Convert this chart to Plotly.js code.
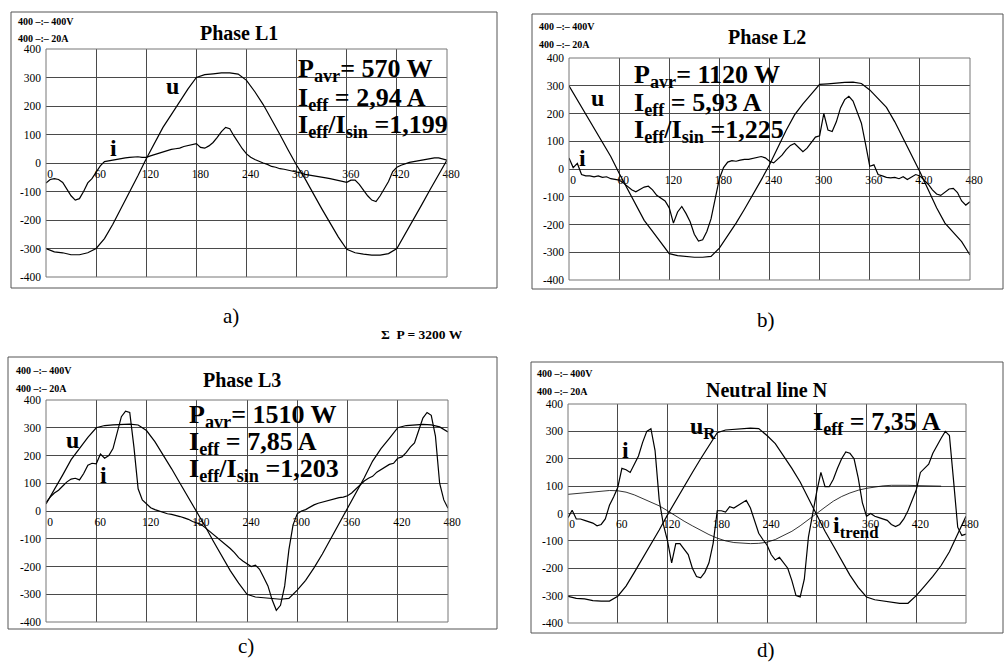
<!DOCTYPE html>
<html>
<head>
<meta charset="utf-8">
<script src="https://cdn.plot.ly/plotly-3.0.1.min.js"></script>
<style>html,body{margin:0;padding:0;background:#fff;}#chart{width:1004px;height:664px;}</style>
</head>
<body>
<div id="chart"></div>
<script>
// ---- sample times (degrees) ----
const T10 = [0,10,20,30,40,50,60,70,80,90,100,110,120,130,140,150,160,170,180,190,200,210,220,230,240,250,260,270,280,290,300,310,320,330,340,350,360,370,380,390,400,410,420,430,440,450,460,470,480];
const T5 = [0,5,10,15,20,25,30,35,40,45,50,55,60,65,70,75,80,85,90,95,100,105,110,115,120,125,130,135,140,145,150,155,160,165,170,175,180,185,190,195,200,205,210,215,220,225,230,235,240,245,250,255,260,265,270,275,280,285,290,295,300,305,310,315,320,325,330,335,340,345,350,355,360,365,370,375,380,385,390,395,400,405,410,415,420,425,430,435,440,445,450,455,460,465,470,475,480];
const T_TREND = [0,10,20,30,40,50,60,70,80,90,100,110,120,130,140,150,160,170,180,190,200,210,220,230,240,250,260,270,280,290,300,310,320,330,340,350,360,370,380,390,400,410,420,430,440,450];

// ---- Phase L1 ----
const U_L1 = [-300,-312,-315,-322,-322,-315,-300,-265,-215,-160,-105,-45,15,70,125,170,215,260,300,310,313,316,316,312,290,250,205,155,100,45,-8,-55,-110,-160,-210,-260,-303,-315,-320,-323,-323,-318,-300,-250,-195,-145,-92,-40,10];
const I_L1 = [-70,-58,-55,-58,-68,-90,-115,-130,-125,-100,
  -70,-55,-32,-10,5,8,10,12,15,18,
  20,22,22,20,20,25,30,35,40,45,
  48,50,52,58,62,65,68,55,52,60,
  72,90,110,125,120,95,70,50,32,20,
  12,5,0,-5,-12,-15,-20,-22,-25,-28,
  -32,-35,-40,-42,-45,-48,-50,-52,-55,-58,
  -60,-65,-68,-60,-60,-75,-95,-115,-130,-135,
  -115,-90,-65,-30,-15,-8,-2,2,5,8,
  10,12,15,18,18,15,10];

// ---- Phase L2 ----
const U_L2 = [300,250,200,150,100,45,-15,-70,-130,-185,-225,-265,-305,-312,-315,-318,-318,-315,-285,-240,-195,-145,-95,-40,15,80,140,195,235,270,305,307,310,312,313,308,285,255,222,170,110,55,-10,-75,-140,-195,-230,-262,-310];
const I_L2 = [40,5,20,-20,-25,-25,-28,-25,-30,-28,
  -35,-38,-40,-50,-62,-75,-82,-75,-65,-62,
  -75,-95,-105,-115,-140,-195,-155,-135,-160,-190,
  -235,-260,-255,-225,-180,-110,-35,5,25,30,
  28,32,35,35,38,42,45,40,28,22,
  35,50,70,85,92,75,62,75,95,115,
  120,200,140,135,170,220,250,262,245,205,
  165,90,10,15,-20,-25,-30,-32,-30,-35,
  -28,-38,-30,-20,-25,-40,-55,-75,-90,-95,
  -85,-72,-70,-85,-115,-130,-118];

// ---- Phase L3 ----
const U_L3 = [25,75,130,185,225,265,300,308,310,312,313,310,290,250,202,152,100,50,0,-55,-110,-165,-215,-260,-300,-310,-312,-315,-318,-315,-285,-250,-205,-155,-100,-45,5,60,120,180,225,262,300,308,310,312,310,303,285];
const I_L3 = [30,50,65,75,90,105,115,118,112,135,
  165,172,170,205,190,200,225,280,340,360,
  355,230,80,40,25,12,5,0,-5,-10,
  -12,-15,-20,-25,-30,-38,-42,-48,-60,-72,
  -85,-98,-110,-122,-135,-150,-168,-180,-190,-200,
  -195,-210,-240,-270,-320,-358,-340,-270,-140,-50,
  -10,0,5,15,22,28,32,35,40,45,
  48,50,55,65,80,95,108,118,125,140,
  150,160,168,172,190,195,210,230,245,290,
  335,355,345,270,100,40,10];

// ---- Neutral line N ----
const U_N = [-303,-310,-312,-318,-320,-320,-302,-265,-215,-165,-110,-60,-5,48,100,150,200,250,295,305,308,310,312,310,285,255,210,165,115,55,-10,-65,-118,-170,-225,-270,-305,-315,-320,-325,-328,-328,-300,-265,-230,-190,-140,-75,-10];
const I_N = [-15,12,-20,-20,-25,-30,-35,-45,-40,-20,
  30,60,95,165,160,150,180,210,260,300,
  310,230,50,-40,-100,-180,-110,-110,-130,-150,
  -200,-230,-235,-215,-180,-110,10,10,5,25,
  20,30,37,48,20,-30,-72,-95,-115,-150,
  -170,-160,-180,-200,-245,-300,-305,-240,-85,5,
  80,150,98,98,125,165,200,225,220,200,
  130,40,-10,0,-10,-15,-20,-25,-40,-48,
  -40,-20,10,50,86,150,165,180,220,250,
  275,300,285,120,-50,-80,-75];
const I_TREND = [70,73,76,79,82,84,83,78,68,55,42,28,10,-10,-28,-45,-62,-77,-90,-100,-106,-109,-110,-109,-105,-95,-80,-65,-45,-22,3,23,45,62,75,85,92,97,101,103,104,103,102,101,100,100];

// ---- tick labels ----
const X_TICKS = [0,60,120,180,240,300,360,420,480];
const X_TICKTEXT = ['0','60','120','180','240','300','360','420','480'];
const Y_TICKS = [-400,-300,-200,-100,0,100,200,300,400];
const Y_TICKTEXT = ['-400','-300','-200','-100','0','100','200','300','400'];

// ---- texts ----
const TITLES = ['Phase L1','Phase L2','Phase L3','Neutral line N'];
const SCALE1 = '400 –:– 400V';
const SCALE2 = '400 –:– 20A';
const STATS = [
  ['P<sub>avr</sub>= 570 W','I<sub>eff</sub> = 2,94 A','I<sub>eff</sub>/I<sub>sin</sub> =1,199'],
  ['P<sub>avr</sub>= 1120 W','I<sub>eff</sub> = 5,93 A','I<sub>eff</sub>/I<sub>sin</sub> =1,225'],
  ['P<sub>avr</sub>= 1510 W','I<sub>eff</sub> = 7,85 A','I<sub>eff</sub>/I<sub>sin</sub> =1,203'],
  ['I<sub>eff</sub> = 7,35 A']
];
const PANEL_LETTERS = ['a)','b)','c)','d)'];
const TOTAL = 'Σ  P = 3200 W';

// ---------------- layout geometry (pixels) ----------------
const W = 1004, H = 664;
const fx = v => v / W;
const fy = v => 1 - v / H;
const SERIF = "'Liberation Serif', 'Times New Roman', Times, serif";
const GRID = '#4a4a4a';

// plot areas [left, right, top, bottom] in px
const AREAS = [[46,447,49,277],[569,970,58,280],[46,448,400,622],[568,966,404,623]];
// outer frames
const FRAMES = [[11,497,12,288],[532,1003,14,289],[8,497,357,629],[531,1003,362,633]];

const layout = {
  width: W, height: H,
  margin: {l:0, r:0, t:0, b:0},
  paper_bgcolor: '#fff', plot_bgcolor: '#fff',
  showlegend: false,
  font: {family: SERIF, color: '#000', size: 11},
  shapes: [], annotations: []
};

AREAS.forEach((a, k) => {
  const n = k === 0 ? '' : String(k + 1);
  const yd = [fy(a[3]), fy(a[2])];
  layout['xaxis' + n] = {
    domain: [fx(a[0]), fx(a[1])], range: [0, 480],
    anchor: 'free', position: (yd[0] + yd[1]) / 2,
    tickvals: X_TICKS, ticktext: X_TICKTEXT,
    showgrid: true, gridcolor: GRID, gridwidth: 1,
    zeroline: false, showline: false, ticks: '',
    ticklabelshift: 4, ticklabelstandoff: 2,
    tickfont: {family: SERIF, size: 11.5, color: '#000'},
    fixedrange: true
  };
  layout['yaxis' + n] = {
    domain: yd, range: [-400, 400],
    anchor: 'x' + n,
    tickvals: Y_TICKS, ticktext: Y_TICKTEXT,
    showgrid: true, gridcolor: GRID, gridwidth: 1,
    zeroline: true, zerolinecolor: GRID, zerolinewidth: 1,
    showline: false, ticks: '', ticklabelstandoff: 4,
    tickfont: {family: SERIF, size: 11.5, color: '#000'},
    fixedrange: true
  };
  layout.shapes.push({type: 'rect', xref: 'x' + n + ' domain', yref: 'y' + n + ' domain',
    x0: 0, x1: 1, y0: 0, y1: 1, line: {color: '#777', width: 1}});
  const f = FRAMES[k];
  layout.shapes.push({type: 'rect', xref: 'paper', yref: 'paper',
    x0: fx(f[0]), x1: fx(f[1]), y0: fy(f[3]), y1: fy(f[2]), line: {color: '#555', width: 1}});
});

function ann(text, x, y, size, opts) {
  layout.annotations.push(Object.assign({
    text: text, xref: 'paper', yref: 'paper', x: fx(x), y: fy(y),
    xanchor: 'left', yanchor: 'middle', showarrow: false,
    font: {family: SERIF, size: size, color: '#000'}
  }, opts || {}));
}
const B = s => '<b>' + s + '</b>';

// scale notes
[[16,22,39],[537,27,44],[14,371,388],[535,373,391]].forEach(p => {
  ann(B(SCALE1), p[0], p[1], 10);
  ann(B(SCALE2), p[0], p[2], 10);
});
// titles
[[239,33],[767,37],[242,380],[767,390]].forEach((p, k) => {
  ann(B(TITLES[k]), p[0], p[1], 20, {xanchor: 'center'});
});
// stats
const STAT_POS = [[296,[70,99,126]],[632,[76,104,131]],[187,[416,443,470]],[811,[423]]];
STAT_POS.forEach((p, k) => {
  STATS[k].forEach((s, j) => ann(B(s), p[0], p[1][j], 26));
});
// curve labels
ann(B('u'), 172, 86, 24, {xanchor: 'center'});
ann(B('i'), 113, 148, 24, {xanchor: 'center'});
ann(B('u'), 597, 98, 24, {xanchor: 'center'});
ann(B('i'), 582, 158, 24, {xanchor: 'center'});
ann(B('u'), 72, 440, 24, {xanchor: 'center'});
ann(B('i'), 103, 475, 24, {xanchor: 'center'});
ann(B('i'), 625, 450, 24, {xanchor: 'center'});
ann(B('u<sub>R</sub>'), 688, 428, 24, {xanchor: 'left'});
ann(B('i<sub>trend</sub>'), 831, 527, 24, {xanchor: 'left'});
// panel letters
[[231,316],[766,320],[246,646],[766,650]].forEach((p, k) => {
  ann(PANEL_LETTERS[k], p[0], p[1], 21, {xanchor: 'center'});
});
ann(B(TOTAL), 422, 335, 13.5, {xanchor: 'center'});

// ---------------- traces ----------------
const traces = [];
function add(x, y, n, w) {
  traces.push({x: x, y: y, xaxis: 'x' + n, yaxis: 'y' + n, type: 'scatter', mode: 'lines',
    line: {color: '#000', width: w || 1.2}, hoverinfo: 'skip'});
}
add(T10, U_L1, ''); add(T5, I_L1, '');
add(T10, U_L2, '2'); add(T5, I_L2, '2');
add(T10, U_L3, '3'); add(T5, I_L3, '3');
add(T10, U_N, '4'); add(T5, I_N, '4'); add(T_TREND, I_TREND, '4', 0.8);

Plotly.newPlot('chart', traces, layout, {staticPlot: true, displayModeBar: false});
</script>
</body>
</html>
